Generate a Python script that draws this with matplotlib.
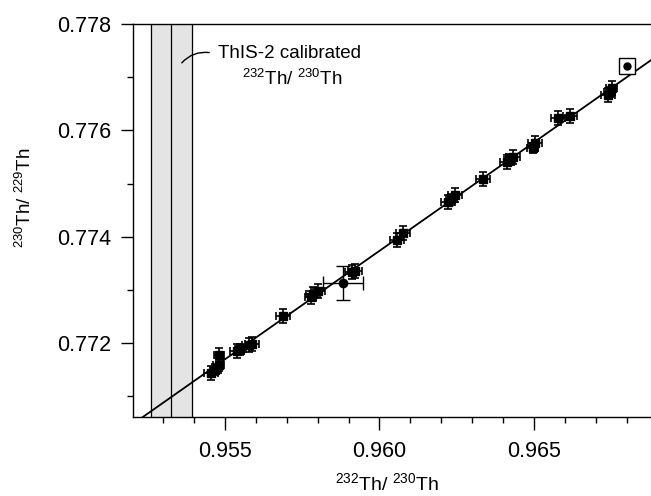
import matplotlib.pyplot as plt
from matplotlib.ticker import MultipleLocator

plt.rcParams['font.family'] = ['Liberation Sans', 'DejaVu Sans']
plt.rcParams['mathtext.fontset'] = 'custom'
plt.rcParams['mathtext.rm'] = 'Liberation Sans'

# measured ratios (232Th/230Th, 230Th/229Th) with 2s errors
th232_230 = [0.95454, 0.95468, 0.95480, 0.95480, 0.95539, 0.95550, 0.95577, 0.95587,
             0.95687, 0.95778, 0.95785, 0.95801, 0.95911, 0.95920,
             0.96056, 0.96076, 0.96221, 0.96232, 0.96244, 0.96335, 0.96412, 0.96420,
             0.96432, 0.96496, 0.96503, 0.96577, 0.96616, 0.96739, 0.96745,
             0.96752]
th230_229 = [0.77143, 0.77150, 0.77158, 0.77177, 0.77185, 0.77188, 0.77196, 0.77198,
             0.77251, 0.77286, 0.77292, 0.77298, 0.77333, 0.77335,
             0.77394, 0.77407, 0.77465, 0.77470, 0.77478, 0.77508, 0.77540, 0.77545,
             0.77550, 0.77567, 0.77576, 0.77623, 0.77627, 0.77666, 0.77672,
             0.77680]
x_err = [0.00022, 0.00018, 0.00018, 0.00015, 0.00022, 0.00018, 0.00022, 0.00022,
         0.00022, 0.00018, 0.00022, 0.00022, 0.00022, 0.00022,
         0.00022, 0.00022, 0.00022, 0.00018, 0.00022, 0.00022, 0.00022, 0.00018,
         0.00022, 0.00018, 0.00022, 0.00022, 0.00022, 0.00022, 0.00018,
         0.00018]
y_err = [0.00013, 0.00010, 0.00010, 0.00014, 0.00013, 0.00010, 0.00013, 0.00013,
         0.00013, 0.00012, 0.00013, 0.00013, 0.00013, 0.00013,
         0.00013, 0.00013, 0.00013, 0.00010, 0.00013, 0.00013, 0.00013, 0.00010,
         0.00013, 0.00010, 0.00013, 0.00013, 0.00013, 0.00013, 0.00010,
         0.00012]

# outlier with large uncertainty
big_x, big_y = 0.95882, 0.77313
big_xerr, big_yerr = 0.00066, 0.00032

# reference material (open box)
ref_x, ref_y = 0.96801, 0.77721
ref_xerr, ref_yerr = 0.00010, 0.00005

# regression line end points
fit_x = [0.95202, 0.96879]
fit_y = [0.77048, 0.77732]

# ThIS-2 calibrated value and uncertainty band
this2 = 0.95325
this2_lo = 0.95259
this2_hi = 0.95392

fig = plt.figure(figsize=(6.51, 4.96), dpi=100)
ax = fig.add_axes([133/651, 79/496, 518/651, 393/496])

ax.axvspan(this2_lo, this2_hi, color='#e4e4e4', zorder=0)
for xv in (this2_lo, this2, this2_hi):
    ax.axvline(xv, color='black', lw=0.9, zorder=1)

ax.plot(fit_x, fit_y, color='black', lw=1.3, zorder=2)

ax.errorbar(th232_230, th230_229, xerr=x_err, yerr=y_err, fmt='s', ms=5.5,
            mfc='black', mec='black', ecolor='black', elinewidth=1.2,
            capsize=3, capthick=1.2, zorder=3)
ax.errorbar(big_x, big_y, xerr=big_xerr, yerr=big_yerr, fmt='o', ms=6,
            color='black', elinewidth=1.0, capsize=5, capthick=1.0, zorder=3)
ax.errorbar(ref_x, ref_y, xerr=ref_xerr, yerr=ref_yerr, fmt='s', ms=11,
            mfc='white', mec='black', mew=1.0, ecolor='black', elinewidth=1.0, zorder=3)
ax.plot(ref_x, ref_y, 'o', ms=5, color='black', zorder=4)

ax.set_xlim(0.95202, 0.96879)
ax.set_ylim(0.77061, 0.778)
ax.xaxis.set_major_locator(MultipleLocator(0.005))
ax.xaxis.set_minor_locator(MultipleLocator(0.001))
ax.yaxis.set_major_locator(MultipleLocator(0.002))
ax.yaxis.set_minor_locator(MultipleLocator(0.001))
ax.xaxis.set_major_formatter(plt.FormatStrFormatter('%.3f'))
ax.yaxis.set_major_formatter(plt.FormatStrFormatter('%.3f'))
ax.tick_params(which='major', direction='out', length=9, width=1.0, labelsize=15.5)
ax.tick_params(axis='x', which='major', pad=8)
ax.tick_params(axis='y', which='major', pad=7)
ax.tick_params(which='minor', direction='out', length=4.5, width=1.0)
ax.spines['right'].set_visible(False)
for s in ('left', 'top', 'bottom'):
    ax.spines[s].set_linewidth(1.0)

fig.text(218/651, 1 - 53/496, 'ThIS-2 calibrated', fontsize=13.5, va='center', ha='left')
fig.text(292/651, 1 - 79/496, r'$^{232}$Th/ $^{230}$Th', fontsize=13.5,
         va='center', ha='center')
ax.annotate('', xy=(180/651, 1 - 65/496), xytext=(212/651, 1 - 53/496),
            xycoords='figure fraction', textcoords='figure fraction',
            arrowprops=dict(arrowstyle='-', color='black', lw=1.0,
                            connectionstyle='arc3,rad=0.3'))

fig.text(387/651, 1 - 495/496, r'$^{232}$Th/ $^{230}$Th', fontsize=14,
         ha='center', va='bottom')
fig.text(25/651, 1 - 198/496, r'$^{230}$Th/ $^{229}$Th', fontsize=13.5,
         ha='center', va='center', rotation=90)

fig.savefig('out.png', dpi=100)
